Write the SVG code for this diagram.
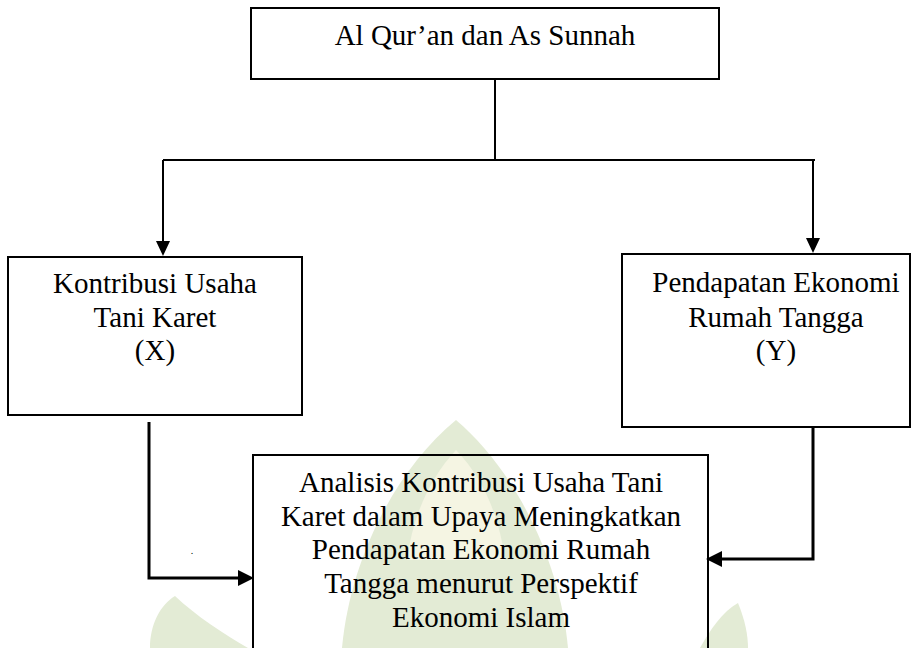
<svg xmlns="http://www.w3.org/2000/svg" width="911" height="648" viewBox="0 0 911 648">
<style>
.box{fill:none;stroke:#000;stroke-width:2}
.lbl{font-family:"Liberation Serif","Times New Roman",serif;font-size:29px;fill:#000;text-anchor:middle}
.ln{fill:none;stroke:#000;stroke-width:2}
.lnb{fill:none;stroke:#000;stroke-width:3}
.wm{fill:#e3ebd5}
.wm2{fill:#f5f5e3}
</style>
<rect width="911" height="648" fill="#fff"/>
<g id="watermark">
<path class="wm" d="M456,420 C515,470 560,560 568,648 L342,648 C350,560 395,470 456,420 Z"/>
<path class="wm2" d="M456,450 C485,480 500,520 505,560 L407,560 C412,520 428,480 456,450 Z"/>
<path class="wm" d="M150,648 C150,625 160,605 175,596 C195,615 225,635 248,648 Z"/>
<path class="wm" d="M700,648 C710,630 722,612 738,603 C745,620 748,635 748,648 Z"/>
</g>
<g id="connectors">
<polyline class="ln" points="495,79 495,160"/>
<polyline class="ln" points="163,160 815,160"/>
<path d="M163,160 L163,242" class="ln"/>
<path d="M156,241 L170,241 L163,256 Z" fill="#000"/>
<path d="M813,160 L813,239" class="ln"/>
<path d="M806,238 L820,238 L813,253 Z" fill="#000"/>
<path d="M149,422 L149,578 L240,578" class="lnb"/>
<path d="M238,570 L254,578 L238,586 Z" fill="#000"/>
<path d="M813,427 L813,559 L720,559" class="lnb"/>
<path d="M722,551 L706,559 L722,567 Z" fill="#000"/>
</g>
<g id="node-top">
<rect class="box" x="251" y="8" width="468" height="71"/>
<text class="lbl" x="485" y="45">Al Qur’an dan As Sunnah</text>
</g>
<g id="node-x">
<rect class="box" x="8" y="257" width="294" height="158"/>
<text class="lbl" x="155" y="293">Kontribusi Usaha</text>
<text class="lbl" x="155" y="327">Tani Karet</text>
<text class="lbl" x="155" y="360">(X)</text>
</g>
<g id="node-y">
<rect class="box" x="622" y="254" width="288" height="173"/>
<text class="lbl" x="776" y="292">Pendapatan Ekonomi</text>
<text class="lbl" x="776" y="327">Rumah Tangga</text>
<text class="lbl" x="776" y="360">(Y)</text>
</g>
<g id="node-analisis">
<path class="box" d="M253,650 L253,455 L708,455 L708,650"/>
<text class="lbl" x="481" y="492">Analisis Kontribusi Usaha Tani</text>
<text class="lbl" x="481" y="526">Karet dalam Upaya Meningkatkan</text>
<text class="lbl" x="481" y="559">Pendapatan Ekonomi Rumah</text>
<text class="lbl" x="481" y="593">Tangga menurut Perspektif</text>
<text class="lbl" x="481" y="627">Ekonomi Islam</text>
</g>
<text x="192" y="554" font-family="Liberation Serif, serif" font-size="10" text-anchor="middle">.</text>
</svg>
